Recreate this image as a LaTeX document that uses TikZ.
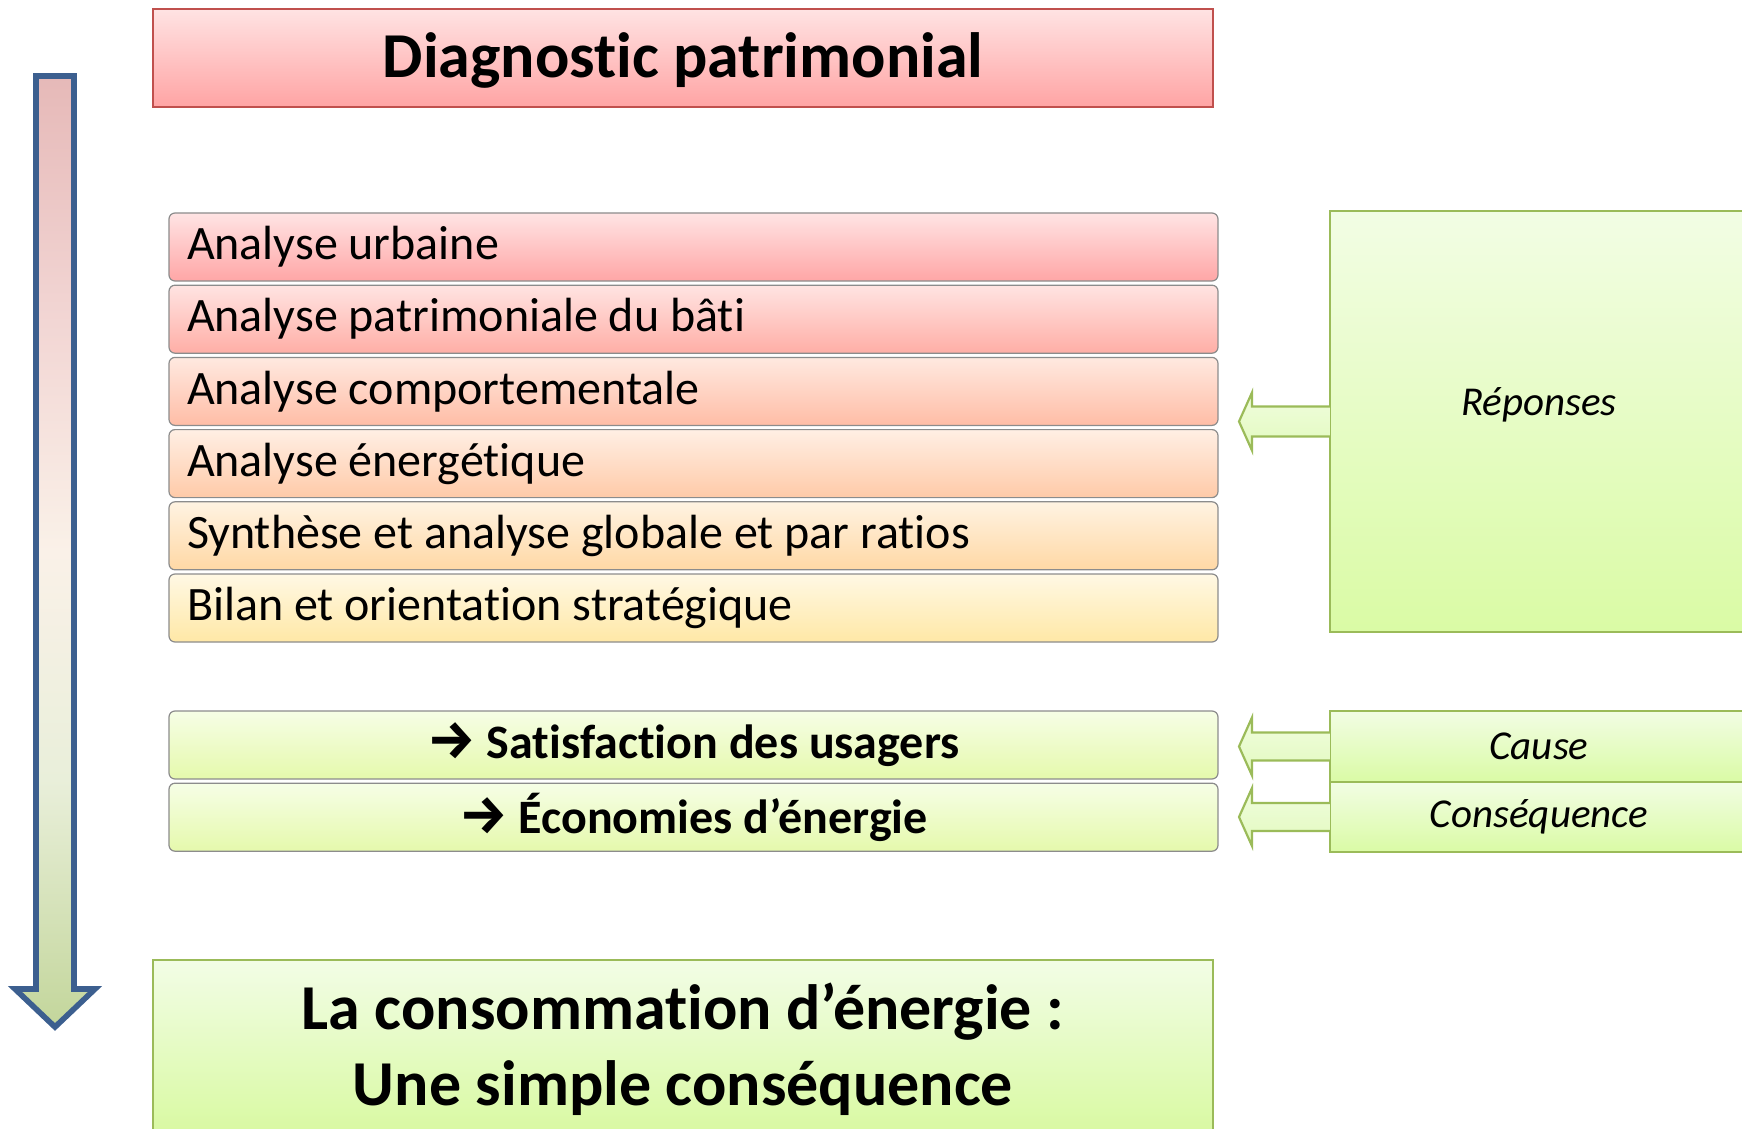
\documentclass[tikz,border=0pt]{standalone}
\usepackage{fontspec}
\setmainfont[Ligatures=NoCommon]{Carlito}
\newfontfamily\symfont{Fira Sans}
\usetikzlibrary{positioning,calc}

\definecolor{titlered}{HTML}{C0504D}
\definecolor{leafgreen}{HTML}{9BBB59}
\definecolor{barblue}{HTML}{3C5F8F}
\definecolor{rowgray}{HTML}{8C8C8C}
\definecolor{barT}{HTML}{E6B9B8}
\definecolor{barT2}{HTML}{F2D6D4}
\definecolor{barM}{HTML}{FAF1E8}
\definecolor{barB2}{HTML}{E9EFDA}
\definecolor{barB}{HTML}{C3D69B}
\pgfdeclareverticalshading{barshade}{100bp}{color(0bp)=(barB); color(25bp)=(barB);
  color(38bp)=(barB2); color(50bp)=(barM); color(62bp)=(barT2); color(75bp)=(barT); color(100bp)=(barT)}

\tikzset{
  titlebox/.style={draw=titlered, line width=0.8pt, top color={rgb,255:red,255;green,227;blue,227},
    bottom color={rgb,255:red,255;green,164;blue,164}, minimum width=530pt, minimum height=49pt,
    text depth=3pt, font=\fontsize{32}{38}\selectfont\bfseries},
  rowbox/.style={draw=rowgray, line width=0.6pt, rounded corners=3pt, minimum width=524.5pt,
    minimum height=34pt, inner xsep=9pt, inner ysep=0pt, text width=506.5pt, align=left,
    execute at begin node={\spaceskip=\fontdimen2\font\xspaceskip=\fontdimen2\font},
    font=\fontsize{24}{28}\selectfont},
  greenrow/.style={rowbox, align=center, font=\fontsize{24}{28}\selectfont\bfseries,
    top color={rgb,255:red,246;green,254;blue,230}, bottom color={rgb,255:red,229;green,249;blue,172}},
  replybox/.style={draw=leafgreen, line width=1.1pt, outer sep=0pt, minimum width=209pt,
    top color={rgb,255:red,242;green,253;blue,228}, bottom color={rgb,255:red,218;green,251;blue,165},
    font=\fontsize{20.5}{24}\selectfont\itshape},
  replytext/.style={font=\fontsize{20.5}{24}\selectfont\itshape},
  endbox/.style={draw=leafgreen, line width=1pt, minimum width=530pt, minimum height=89pt, align=center,
    top color={rgb,255:red,242;green,253;blue,230}, bottom color={rgb,255:red,216;green,249;blue,160},
    font=\fontsize{32}{38}\selectfont\bfseries},
  blockarrow/.style={draw=leafgreen, line width=1.1pt, line join=miter,
    top color={rgb,255:red,240;green,253;blue,222}, bottom color={rgb,255:red,226;green,250;blue,190}},
  downbar/.style={draw=barblue, line width=2.8pt, line join=miter, shading=barshade},
  fillc/.code 2 args={\pgfkeysalso{top color={rgb,255:#1}, bottom color={rgb,255:#2}}}
}

\newcommand{\bigarrow}{{\symfont\fontsize{27}{28}\selectfont\bfseries →}}

\begin{document}
\begin{tikzpicture}[x=0.5pt, y=-0.5pt]
  \useasboundingbox (0,0) rectangle (1742,1129);

  % grande fleche verticale
  \draw[downbar] (36,76) -- (74,76) -- (74,989) -- (95,989) -- (55,1027) -- (15,989) -- (36,989) -- cycle;

  % titre
  \node[titlebox] (title) at (683,58) {Diagnostic patrimonial};

  % etapes du diagnostic
  \node[rowbox, fillc={red,255;green,228;blue,228}{red,255;green,166;blue,166}] (urb) at (693.5,247) {Analyse urbaine};
  \node[rowbox, fillc={red,255;green,228;blue,226}{red,255;green,174;blue,166}, below=1.5pt of urb] (pat) {Analyse patrimoniale du bâti};
  \node[rowbox, fillc={red,255;green,233;blue,224}{red,255;green,189;blue,166}, below=1.5pt of pat] (comp) {Analyse comportementale};
  \node[rowbox, fillc={red,255;green,239;blue,228}{red,255;green,202;blue,168}, below=1.5pt of comp] (ener) {Analyse énergétique};
  \node[rowbox, fillc={red,255;green,243;blue,226}{red,255;green,216;blue,165}, below=1.5pt of ener] (synth) {Synthèse et analyse globale et par ratios};
  \node[rowbox, fillc={red,255;green,248;blue,228}{red,255;green,232;blue,166}, below=1.5pt of synth] (bilan) {Bilan et orientation stratégique};

  % objectifs
  \node[greenrow] (sat) at (693.5,745) {\bigarrow\ Satisfaction des usagers};
  \node[greenrow, below=1.5pt of sat] (eco) {\bigarrow\ Économies d’énergie};

  % colonne de droite
  \node[replybox, minimum height=210.5pt] (rep) at (1539,421.5) {};
  \node[replytext] (reptxt) at ($(rep.center)+(0,-17)$) {Réponses};
  \node[replybox, minimum height=35.5pt] (cause) at (1539,746.5) {Cause};
  \node[replybox, minimum height=35pt, below=0pt of cause] (cons) {Conséquence};

  % fleches vers la gauche
  \draw[blockarrow] ($(rep.west)+(0,-15)$) -- ++(-78,0) -- ++(0,-14) -- ++(-13,29) -- ++(13,29) -- ++(0,-14) -- ($(rep.west)+(0,15)$);
  \draw[blockarrow] ($(cause.west)+(0,-14)$) -- ++(-78,0) -- ++(0,-15) -- ++(-13,29) -- ++(13,29) -- ++(0,-15) -- ($(cause.west)+(0,14)$);
  \draw[blockarrow] ($(cons.west)+(0,-14)$) -- ++(-78,0) -- ++(0,-15) -- ++(-13,29) -- ++(13,29) -- ++(0,-15) -- ($(cons.west)+(0,14)$);

  % conclusion
  \node[endbox] (conso) at (683,1049) {La consommation d’énergie :\\Une simple conséquence};
\end{tikzpicture}
\end{document}
